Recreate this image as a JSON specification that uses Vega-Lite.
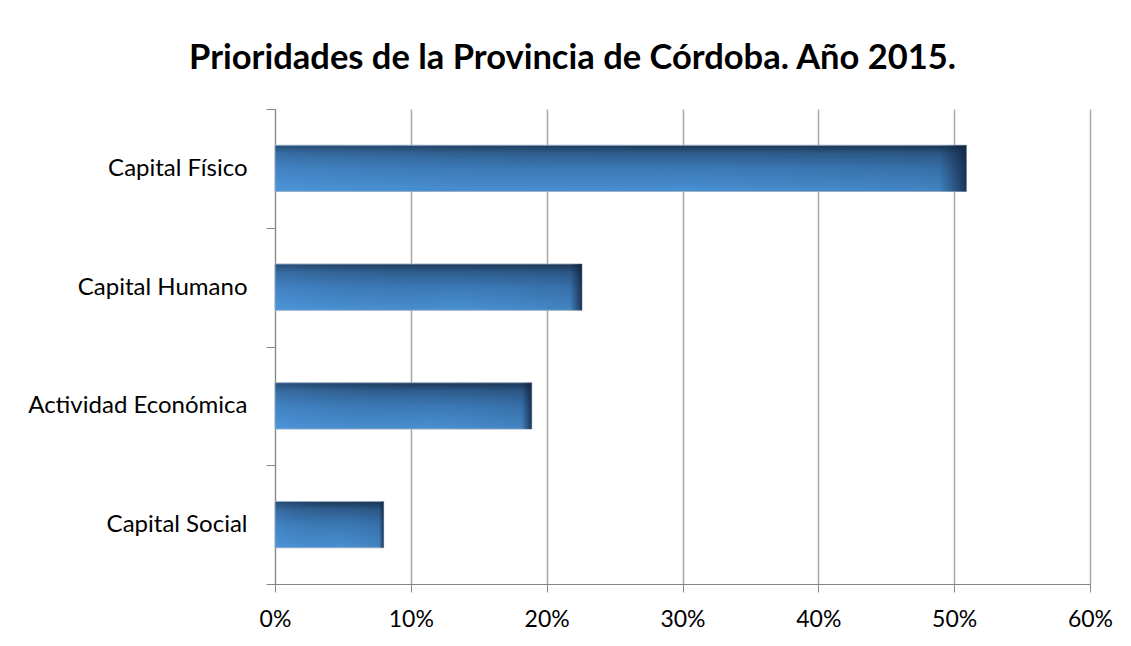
{
  "$schema": "https://vega.github.io/schema/vega-lite/v6.json",
  "autosize": {"type": "none"},
  "width": 815,
  "height": 475,
  "padding": {"left": 275, "top": 109, "right": 41, "bottom": 62},
  "background": "white",
  "title": {
    "text": "Prioridades de la Provincia de Córdoba. Año 2015.",
    "font": "Lato",
    "fontSize": 34.5,
    "fontWeight": "bold",
    "color": "#000000",
    "anchor": "middle",
    "dx": -110,
    "offset": 21
  },
  "data": {
    "values": [
      {"categoria": "Capital Físico", "valor": 0.509},
      {"categoria": "Capital Humano", "valor": 0.226},
      {"categoria": "Actividad Económica", "valor": 0.189},
      {"categoria": "Capital Social", "valor": 0.080}
    ]
  },
  "encoding": {
    "y": {
      "field": "categoria",
      "type": "nominal",
      "sort": null,
      "scale": {"paddingInner": 0, "paddingOuter": 0},
      "axis": {
        "title": null,
        "tickBand": "extent",
        "tickSize": 9,
        "tickColor": "#868686",
        "domainColor": "#868686",
        "labelPadding": 19,
        "labelFont": "Lato",
        "labelFontSize": 24,
        "labelLimit": 300,
        "labelColor": "#000000",
        "grid": false
      }
    },
    "x": {
      "field": "valor",
      "type": "quantitative",
      "scale": {"domain": [0, 0.6], "nice": false},
      "axis": {
        "title": null,
        "format": ".0%",
        "values": [0, 0.1, 0.2, 0.3, 0.4, 0.5, 0.6],
        "tickSize": 8,
        "tickColor": "#868686",
        "domainColor": "#868686",
        "gridColor": "#a6a6a6",
        "gridWidth": 1.5,
        "labelPadding": 16,
        "labelFont": "Lato",
        "labelFontSize": 23,
        "labelColor": "#000000",
        "labelFlush": false
      }
    }
  },
  "layer": [
    {
      "mark": {
        "type": "bar",
        "height": {"band": 0.39},
        "stroke": "#9fb3c8",
        "strokeWidth": 1,
        "fill": {
          "gradient": "linear",
          "x1": 0, "y1": 0, "x2": 0, "y2": 1,
          "stops": [
            {"offset": 0, "color": "#1c3654"},
            {"offset": 0.18, "color": "#2f5f90"},
            {"offset": 0.5, "color": "#3d7cba"},
            {"offset": 1, "color": "#4b95d9"}
          ]
        }
      }
    },
    {
      "mark": {
        "type": "bar",
        "height": {"band": 0.39},
        "fill": {
          "gradient": "linear",
          "x1": 0, "y1": 0, "x2": 1, "y2": 0,
          "stops": [
            {"offset": 0, "color": "rgba(80,150,220,0.25)"},
            {"offset": 0.6, "color": "rgba(30,60,100,0.05)"},
            {"offset": 0.96, "color": "rgba(20,40,70,0.15)"},
            {"offset": 1, "color": "rgba(15,30,55,0.8)"}
          ]
        }
      }
    }
  ],
  "config": {
    "view": {"stroke": null}
  }
}
